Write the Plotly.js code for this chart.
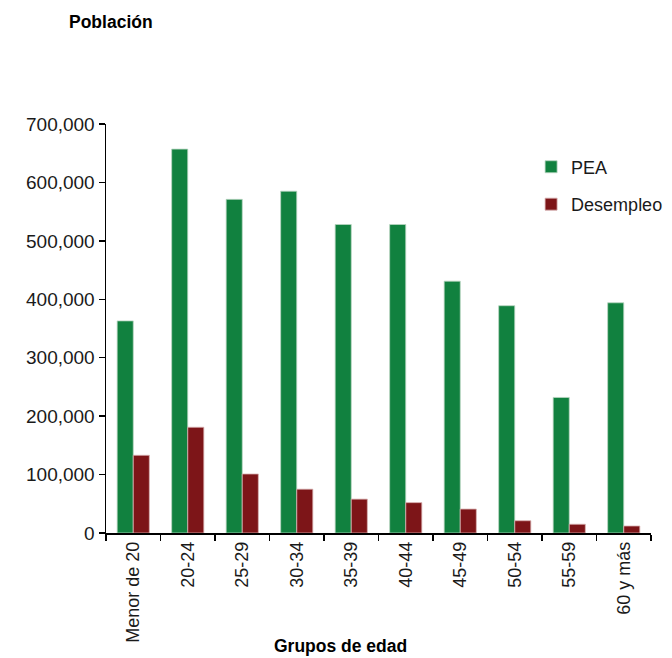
<!DOCTYPE html>
<html>
<head>
<meta charset="utf-8">
<script src="https://cdn.plot.ly/plotly-3.0.1.min.js"></script>
<style>html,body{margin:0;padding:0;background:#fff;}#chart{width:672px;height:658px;}</style>
</head>
<body>
<div id="chart"></div>
<script>
const categories = ["Menor de 20", "20-24", "25-29", "30-34", "35-39", "40-44", "45-49", "50-54", "55-59", "60 y más"];
const pea = [363000, 657000, 571000, 585000, 528000, 528000, 431000, 389000, 232000, 394000];
const desempleo = [133000, 181000, 101000, 75000, 58000, 52000, 41000, 21000, 15000, 12000];
const yTickVals = [0, 100000, 200000, 300000, 400000, 500000, 600000, 700000];
const yTickText = ["0", "100,000", "200,000", "300,000", "400,000", "500,000", "600,000", "700,000"];

const data = [
  {type: "bar", name: "PEA", x: categories, y: pea, legendgroup: "a",
   marker: {color: "#11813f", line: {color: "#b9d6c2", width: 0.8}}},
  {type: "bar", name: "Desempleo", x: categories, y: desempleo, legendgroup: "b",
   marker: {color: "#7d1518", line: {color: "#d9b3b3", width: 0.8}}}
];

const layout = {
  width: 672, height: 658,
  margin: {l: 106, r: 21, t: 124, b: 125, autoexpand: false},
  paper_bgcolor: "#ffffff", plot_bgcolor: "#ffffff",
  font: {family: "Liberation Sans, Arial, sans-serif", color: "#1a1a1a", size: 16},
  barmode: "group", bargap: 0.41, bargroupgap: 0,
  showlegend: true,
  legend: {x: 0.78, y: 0.94, xanchor: "left", yanchor: "top", traceorder: "grouped", tracegroupgap: 11,
           font: {size: 18, color: "#1a1a1a"}, bgcolor: "rgba(0,0,0,0)", itemwidth: 30},
  xaxis: {
    type: "category", tickangle: -90, showgrid: false, showline: true, linecolor: "#000", linewidth: 1.5,
    ticks: "outside", ticklen: 6, tickcolor: "#000", tickwidth: 1.5, tickson: "boundaries",
    tickfont: {size: 18, color: "#1a1a1a"}, automargin: false
  },
  yaxis: {
    range: [0, 700000], tickvals: yTickVals, ticktext: yTickText, showgrid: false, zeroline: false,
    showline: true, linecolor: "#000", linewidth: 1.5, ticks: "outside", ticklen: 6, tickcolor: "#000", tickwidth: 1.5,
    tickfont: {size: 19, color: "#1a1a1a"}, automargin: false
  },
  annotations: [
    {text: "<b>Población</b>", xref: "paper", yref: "paper", x: -0.072, y: 1.25, xanchor: "left", yanchor: "middle",
     showarrow: false, font: {size: 17.5, color: "#000"}},
    {text: "<b>Grupos de edad</b>", xref: "paper", yref: "paper", x: 0.431, y: -0.277, xanchor: "center", yanchor: "middle",
     showarrow: false, font: {size: 17.5, color: "#000"}}
  ]
};

Plotly.newPlot("chart", data, layout, {displayModeBar: false, staticPlot: true});
</script>
</body>
</html>
